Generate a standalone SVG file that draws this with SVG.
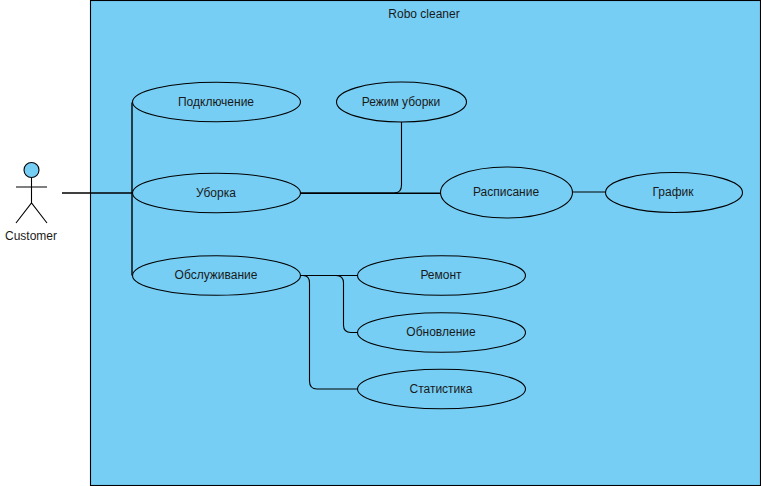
<svg xmlns="http://www.w3.org/2000/svg" width="761" height="486" viewBox="0 0 761 486">
<style>
text{font-family:"Liberation Sans",Arial,sans-serif;font-size:12px;fill:#1a1a1a;text-anchor:middle}
.n{fill:#76CEF5;stroke:#000;stroke-width:1.1}
.c{fill:none;stroke:#000;stroke-width:1.1}
</style>
<rect width="761" height="486" fill="#fff"/>
<g id="system"><rect class="n" x="90.500" y="0.500" width="670" height="485"/><text x="424" y="18">Robo cleaner</text></g>
<g id="connectors">
<path class="c" stroke-width="1.5" style="stroke-width:1.6" d="M62 193H132"/>
<path class="c" style="stroke-width:1.4" d="M132 193L132 102.500"/>
<path class="c" style="stroke-width:1.4" d="M132 193L132 275.500"/>
<path class="c" style="stroke-width:1.4" d="M300 193.200H441"/>
<path class="c" d="M300 193H394Q401.500 193 401.500 185V122"/>
<path class="c" d="M572 192H606"/>
<path class="c" d="M300 275.500H358"/>
<path class="c" d="M300 275.500H336Q343.500 275.500 343.500 283V325Q343.500 332.500 351 332.500H358"/>
<path class="c" d="M300 275.500H303Q309.500 275.500 309.500 283V381Q309.500 389 317 389H358"/>
</g>
<g id="customer">
<circle class="n" cx="31.500" cy="170" r="7.500"/>
<path class="c" d="M31.500 178V203M16 187H47M16 223L31.500 203L47 223"/>
<text x="31" y="240">Customer</text>
</g>
<g id="n1"><ellipse class="n" cx="216.500" cy="102" rx="84" ry="19.800"/><text x="216" y="106">Подключение</text></g>
<g id="n2"><ellipse class="n" cx="216.500" cy="193" rx="84" ry="19.800"/><text x="216" y="197">Уборка</text></g>
<g id="n3"><ellipse class="n" cx="216.500" cy="275.500" rx="84" ry="19.800"/><text x="216" y="279">Обслуживание</text></g>
<g id="n4"><ellipse class="n" cx="401.500" cy="102" rx="65" ry="20"/><text x="401" y="106">Режим уборки</text></g>
<g id="n5"><ellipse class="n" cx="506.500" cy="192.500" rx="66" ry="25.500"/><text x="506" y="196">Расписание</text></g>
<g id="n6"><ellipse class="n" cx="674" cy="192.500" rx="68.500" ry="20"/><text x="673" y="196">График</text></g>
<g id="n7"><ellipse class="n" cx="441.500" cy="275.500" rx="84" ry="19.800"/><text x="441" y="279">Ремонт</text></g>
<g id="n8"><ellipse class="n" cx="441.500" cy="332.500" rx="84" ry="19.800"/><text x="441" y="336">Обновление</text></g>
<g id="n9"><ellipse class="n" cx="441.500" cy="389" rx="84" ry="19.800"/><text x="441" y="393">Статистика</text></g>
</svg>
